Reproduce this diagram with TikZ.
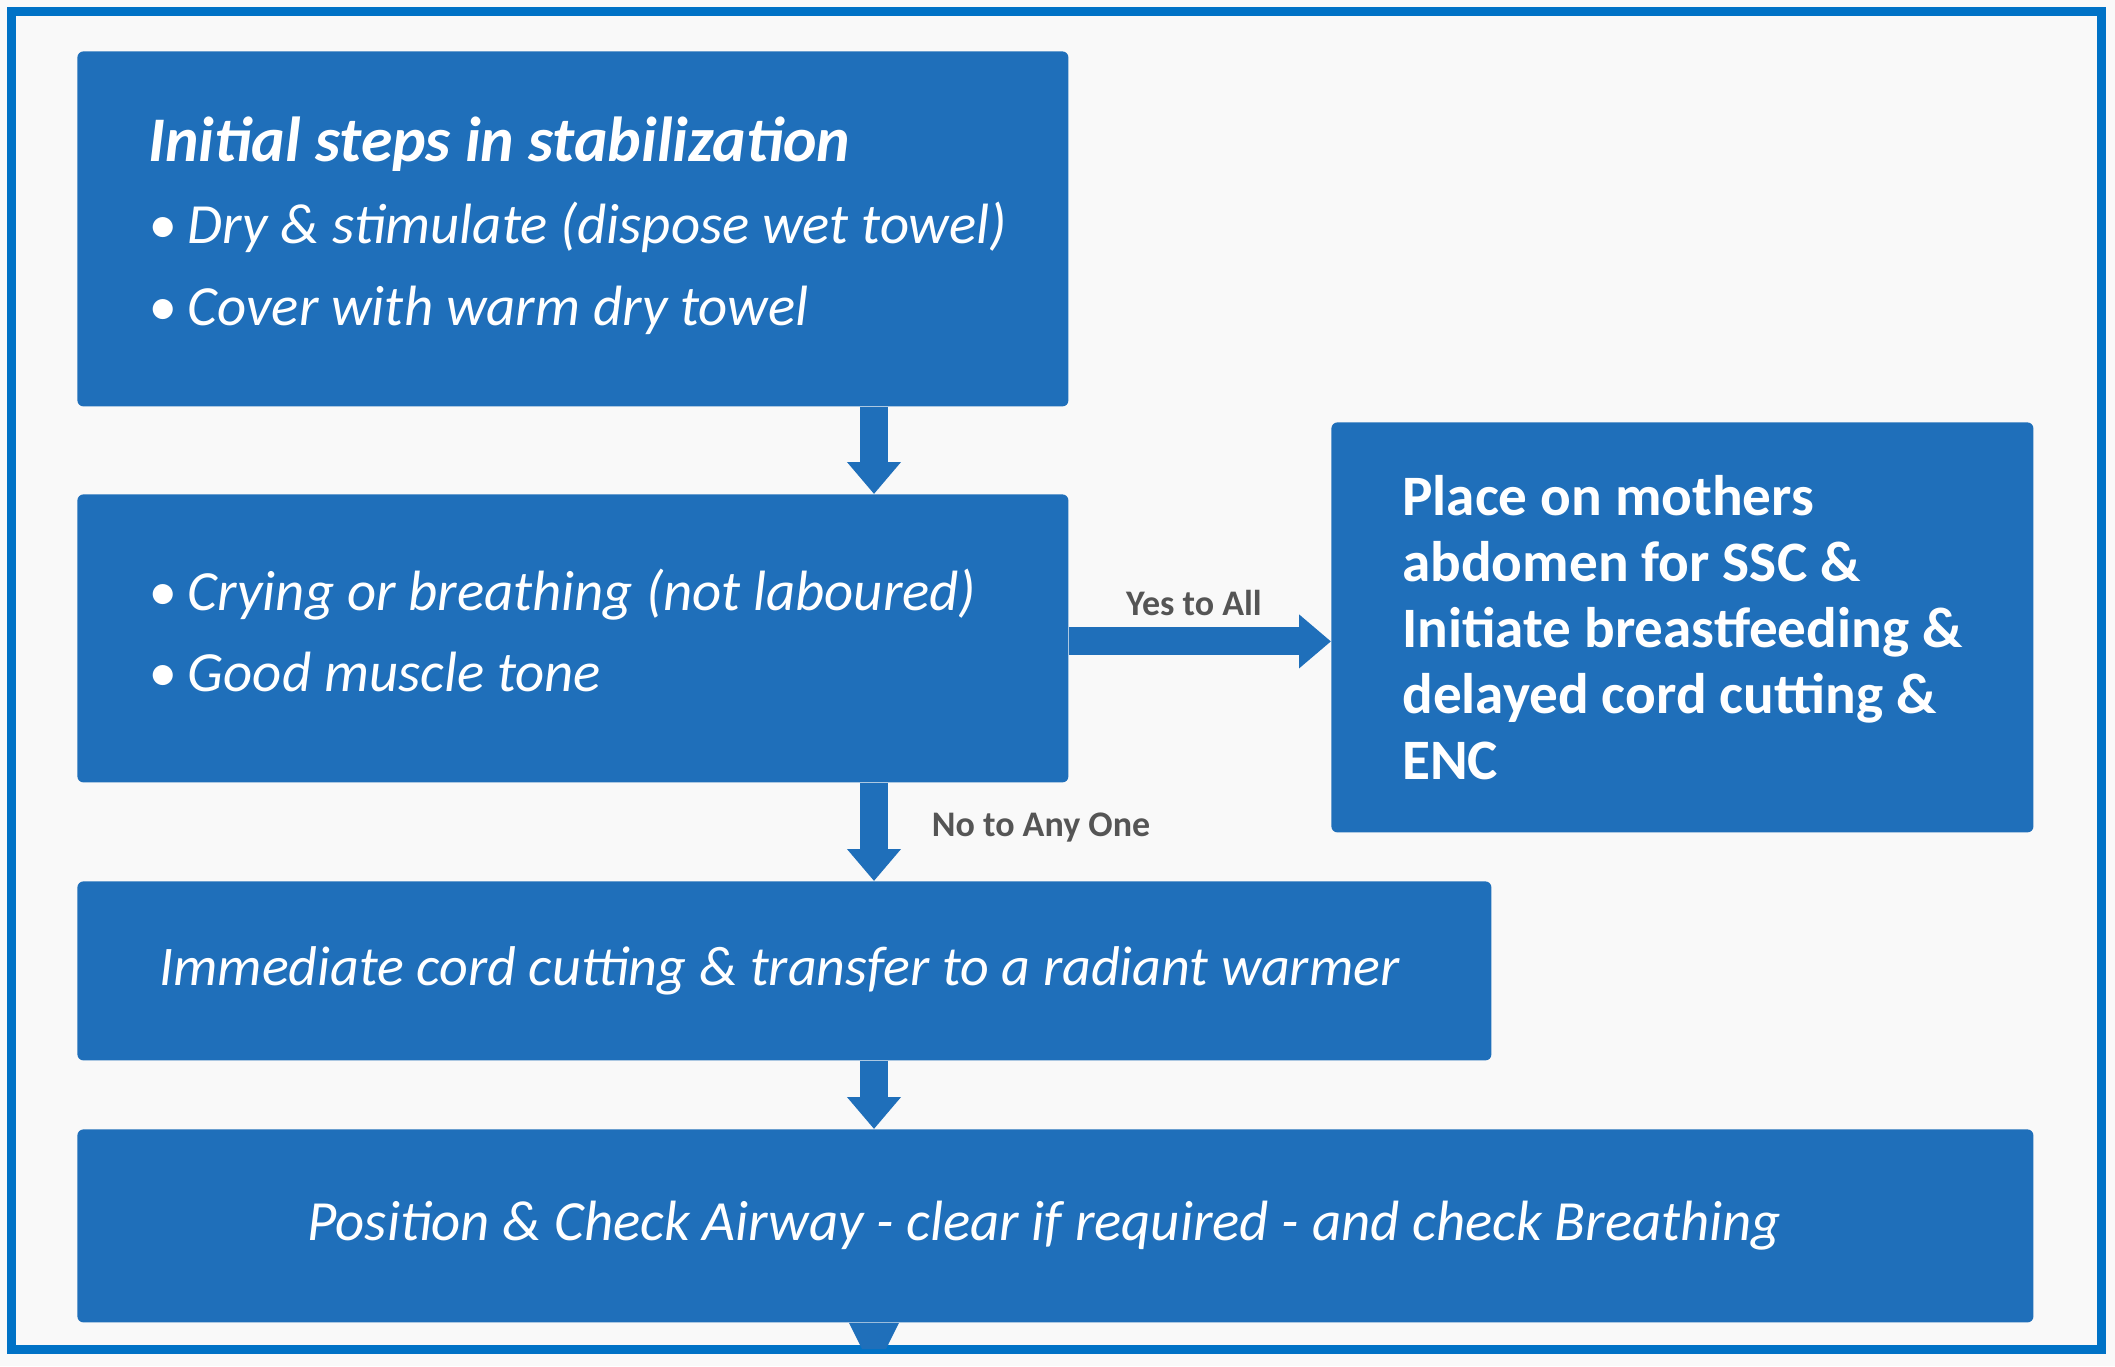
\documentclass[tikz,border=0pt]{standalone}
\usepackage{fontspec}
\setmainfont{Carlito}
\usetikzlibrary{arrows.meta,calc}
\definecolor{boxblue}{RGB}{31,111,186}
\definecolor{frameblue}{RGB}{0,114,198}
\definecolor{lblgray}{RGB}{85,85,85}
\newcommand{\bul}{•\hspace{0.2em}}
\tikzset{
  box/.style={fill=boxblue, rounded corners=3pt, text=white, inner sep=0pt, anchor=north west},
  boxtext/.style={text=white, inner sep=0pt, anchor=west, align=left},
  conn/.style={draw=boxblue, line width=14pt, -{Triangle[width=26pt,length=16pt]}},
  lbl/.style={text=lblgray, font=\fontsize{18}{20}\selectfont\bfseries, inner sep=0pt},
}
\begin{document}
\begin{tikzpicture}[x=0.5pt,y=-0.5pt]
\useasboundingbox (0,0) rectangle (2115,1366);
\fill[gray!5] (0,0) rectangle (2115,1366);
\draw[frameblue, line width=4.5pt] (11,11) rectangle (2101,1349);
% boxes
\node[box, minimum width=495.5pt, minimum height=177.5pt] (b1) at (77,51) {};
\node[boxtext, font=\fontsize{28.4}{41}\selectfont\itshape] (t1) at (148,226)
  {{\fontsize{31.8}{41}\selectfont\bfseries Initial steps in stabilization}\\
   \bul Dry \& stimulate (dispose wet towel)\\
   \bul Cover with warm dry towel};
\node[box, minimum width=495.5pt, minimum height=144pt] (b2) at (77,494) {};
\node[boxtext, font=\fontsize{28.4}{40.5}\selectfont\itshape] (t2) at (148,630)
  {\bul Crying or breathing (not laboured)\\
   \bul Good muscle tone};
\node[box, minimum width=351pt, minimum height=205pt, align=left,
  font=\fontsize{28.6}{33}\selectfont\bfseries] (b3) at (1331,422)
  {Place on mothers\\ abdomen for SSC \&\\ Initiate breastfeeding \&\\ delayed cord cutting \&\\ ENC};
\node[box, minimum width=707pt, minimum height=89.5pt,
  font=\fontsize{28}{30}\selectfont\itshape] (b4) at (77,881)
  {Immediate cord cutting \& transfer to a radiant warmer\kern5pt\relax};
\node[box, minimum width=978pt, minimum height=96.5pt,
  font=\fontsize{28.4}{30}\selectfont\itshape] (b5) at (77,1129)
  {Position \& Check Airway - clear if required - and check Breathing\kern11pt\relax};
% connectors
\coordinate (cx) at (874,0);
\coordinate (stub) at (874,1349);
\draw[conn] (b1.south -| cx) -- (b2.north -| cx);
\draw[conn] (b2.south -| cx) -- (b4.north -| cx);
\draw[conn] (b4.south -| cx) -- (b5.north -| cx);
\draw[conn] ($(b2.east)+(0,3)$) -- ($(b2.east -| b3.west)+(0,3)$);
\fill[boxblue] ($(b5.south -| cx)+(-25,0)$) -- ($(b5.south -| cx)+(25,0)$) -- ($(stub)+(12,0)$) -- ($(stub)+(-12,0)$) -- cycle;
% labels
\node[lbl] (yes) at (1194,603) {Yes to All};
\node[lbl] (no) at (1041,828) {No to Any One};
\end{tikzpicture}
\end{document}
